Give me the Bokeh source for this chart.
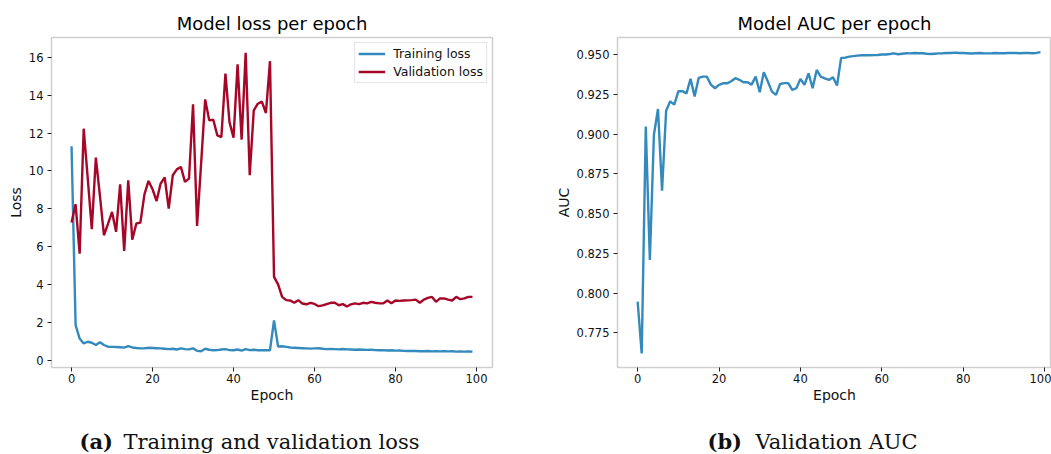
from bokeh.plotting import figure
from bokeh.layouts import row, column
from bokeh.models import Range1d, FixedTicker, Legend, LegendItem, Label, NumeralTickFormatter
from bokeh.embed import file_html
from bokeh.resources import INLINE

epochs = list(range(100))

train_loss = [11.3, 1.85, 1.14, 0.88, 0.97, 0.92, 0.80, 0.95, 0.80, 0.71,
              0.70, 0.69, 0.68, 0.66, 0.74, 0.67, 0.64, 0.62, 0.63, 0.65,
              0.64, 0.63, 0.62, 0.60, 0.58, 0.60, 0.56, 0.62, 0.58, 0.57,
              0.62, 0.49, 0.47, 0.60, 0.55, 0.52, 0.53, 0.56, 0.58, 0.53,
              0.52, 0.56, 0.50, 0.58, 0.53, 0.55, 0.52, 0.52, 0.53, 0.52,
              2.10, 0.72, 0.73, 0.70, 0.67, 0.65, 0.64, 0.63, 0.62, 0.61,
              0.62, 0.63, 0.60, 0.58, 0.59, 0.58, 0.57, 0.59, 0.57, 0.56,
              0.55, 0.56, 0.55, 0.54, 0.55, 0.53, 0.52, 0.53, 0.51, 0.52,
              0.50, 0.51, 0.49, 0.48, 0.49, 0.48, 0.47, 0.47, 0.48, 0.46,
              0.47, 0.46, 0.47, 0.46, 0.47, 0.45, 0.46, 0.45, 0.46, 0.44]

val_loss = [7.27, 8.24, 5.63, 12.23, 9.6, 6.92, 10.70, 8.7, 6.60, 7.2,
            7.83, 6.78, 9.29, 5.77, 9.50, 6.37, 7.22, 7.27, 8.76, 9.47,
            9.03, 8.41, 9.33, 9.65, 8.01, 9.77, 10.08, 10.21, 9.42, 9.59,
            13.52, 7.09, 10.4, 13.78, 12.67, 12.70, 11.88, 11.79, 15.14, 12.58,
            11.76, 15.63, 11.65, 16.24, 9.77, 13.20, 13.55, 13.66, 13.06, 15.80,
            4.40, 4.00, 3.34, 3.17, 3.15, 3.03, 3.17, 2.99, 2.95, 3.03,
            2.97, 2.85, 2.89, 2.96, 3.03, 3.03, 2.90, 2.96, 2.83, 2.95,
            3.00, 2.96, 3.03, 3.00, 3.08, 3.03, 3.00, 3.00, 3.15, 3.00,
            3.15, 3.13, 3.15, 3.16, 3.17, 3.20, 3.03, 3.20, 3.29, 3.34,
            3.08, 3.26, 3.26, 3.20, 3.15, 3.34, 3.22, 3.26, 3.34, 3.34]

val_auc = [0.7947, 0.7621, 0.9047, 0.8209, 0.8996, 0.9158, 0.8644, 0.9147, 0.9206, 0.9185,
           0.9269, 0.9270, 0.9256, 0.9347, 0.9237, 0.9353, 0.9361, 0.9361, 0.9311, 0.9288,
           0.9309, 0.9319, 0.9319, 0.9332, 0.9351, 0.9341, 0.9326, 0.9326, 0.9311, 0.9361,
           0.9263, 0.9389, 0.9330, 0.9267, 0.9246, 0.9315, 0.9320, 0.9320, 0.9278, 0.9288,
           0.9347, 0.9310, 0.9382, 0.9288, 0.9403, 0.9361, 0.9350, 0.9340, 0.9357, 0.9305,
           0.9479, 0.9480, 0.9487, 0.9490, 0.9493, 0.9495, 0.9495, 0.9495, 0.9496, 0.9497,
           0.9500, 0.9500, 0.9503, 0.9507, 0.9502, 0.9505, 0.9508, 0.9507, 0.9510, 0.9508,
           0.9508, 0.9505, 0.9503, 0.9505, 0.9507, 0.9508, 0.9510, 0.9510, 0.9512, 0.9510,
           0.9510, 0.9508, 0.9506, 0.9508, 0.9510, 0.9508, 0.9507, 0.9508, 0.9510, 0.9508,
           0.9508, 0.9510, 0.9510, 0.9510, 0.9508, 0.9510, 0.9510, 0.9508, 0.9510, 0.9515]

x_ticks = [0, 20, 40, 60, 80, 100]
loss_ticks = [0, 2, 4, 6, 8, 10, 12, 14, 16]
auc_ticks = [0.775, 0.800, 0.825, 0.850, 0.875, 0.900, 0.925, 0.950]

caption_tags = ["(a)", "(b)"]
caption_texts = ["Training and validation loss", "Validation AUC"]

BLUE = "#348ABD"
RED = "#A60628"
FONT = "DejaVu Sans"
SERIF = "DejaVu Serif"
CHART_H = 410


def style(p, xlabel, ylabel):
    p.outline_line_color = "#cfcfcf"
    p.outline_line_width = 1.5
    p.background_fill_color = "white"
    p.border_fill_color = "white"
    p.xgrid.visible = False
    p.ygrid.visible = False
    p.title.text_font = FONT
    p.title.text_font_size = "18px"
    p.title.text_font_style = "normal"
    p.title.text_color = "#000000"
    p.title.align = "center"
    p.title.standoff = 8
    for ax in (p.xaxis[0], p.yaxis[0]):
        ax.axis_line_color = None
        ax.major_tick_line_color = "#222222"
        ax.major_tick_line_width = 1
        ax.major_tick_out = 4
        ax.major_tick_in = 0
        ax.minor_tick_line_color = None
        ax.major_label_text_font = FONT
        ax.major_label_text_font_size = "11.5px"
        ax.major_label_text_color = "#111111"
        ax.axis_label_text_font = FONT
        ax.axis_label_text_font_size = "14px"
        ax.axis_label_text_font_style = "normal"
        ax.axis_label_text_color = "#111111"
    p.xaxis.major_label_standoff = 2
    p.xaxis.axis_label_standoff = 1
    p.yaxis.major_label_standoff = 4
    p.yaxis.axis_label_standoff = 2
    p.xaxis.axis_label = xlabel
    p.yaxis.axis_label = ylabel
    p.xaxis.ticker = FixedTicker(ticks=x_ticks)


# ---------- left: loss ----------
p1 = figure(width=550, height=CHART_H, output_backend="svg", toolbar_location=None,
            title="Model loss per epoch",
            x_range=Range1d(-4.95, 103.95), y_range=Range1d(-0.39, 17.05),
            min_border_left=51, min_border_right=58, min_border_top=37, min_border_bottom=43)
style(p1, "Epoch", "Loss")
p1.yaxis.ticker = FixedTicker(ticks=loss_ticks)
r_train = p1.line(epochs, train_loss, line_color=BLUE, line_width=2.4)
r_val = p1.line(epochs, val_loss, line_color=RED, line_width=2.4)
legend = Legend(items=[LegendItem(label="Training loss", renderers=[r_train]),
                       LegendItem(label="Validation loss", renderers=[r_val])],
                location="top_right")
legend.label_text_font = FONT
legend.label_text_font_size = "12.5px"
legend.label_text_color = "#111111"
legend.border_line_color = "#cccccc"
legend.border_line_width = 1
legend.background_fill_alpha = 1.0
legend.glyph_width = 27
legend.glyph_height = 15
legend.label_standoff = 8
legend.label_height = 15
legend.padding = 3
legend.spacing = 3
legend.margin = 5
p1.add_layout(legend)

# ---------- right: AUC ----------
p2 = figure(width=501, height=CHART_H, output_backend="svg", toolbar_location=None,
            title="Model AUC per epoch",
            x_range=Range1d(-4.95, 101.7), y_range=Range1d(0.7533, 0.9607),
            min_border_left=67, min_border_right=0, min_border_top=37, min_border_bottom=43)
style(p2, "Epoch", "AUC")
p2.yaxis.ticker = FixedTicker(ticks=auc_ticks)
p2.yaxis.formatter = NumeralTickFormatter(format="0.000")
p2.line(epochs, val_auc, line_color=BLUE, line_width=2.4)

# ---------- captions (sub-figure labels) ----------
cap = figure(width=1051, height=454 - CHART_H, output_backend="svg", toolbar_location=None,
             x_range=Range1d(0, 1051), y_range=Range1d(0, 454 - CHART_H),
             min_border=0, min_border_left=0, min_border_right=0,
             min_border_top=0, min_border_bottom=0)
cap.axis.visible = False
cap.grid.visible = False
cap.outline_line_color = None
tag_x = [79, 707]
text_x = [123, 755]
for i in range(2):
    cap.add_layout(Label(x=tag_x[i], y=13, text=caption_tags[i], text_font=SERIF,
                         text_font_size="21px", text_font_style="bold",
                         text_baseline="middle", text_align="left", text_color="#111111"))
    cap.add_layout(Label(x=text_x[i], y=13, text=caption_texts[i], text_font=SERIF,
                         text_font_size="21px", text_font_style="normal",
                         text_baseline="middle", text_align="left", text_color="#111111"))

layout = column(row(p1, p2), cap)
open("out.html", "w").write(file_html(layout, INLINE))
